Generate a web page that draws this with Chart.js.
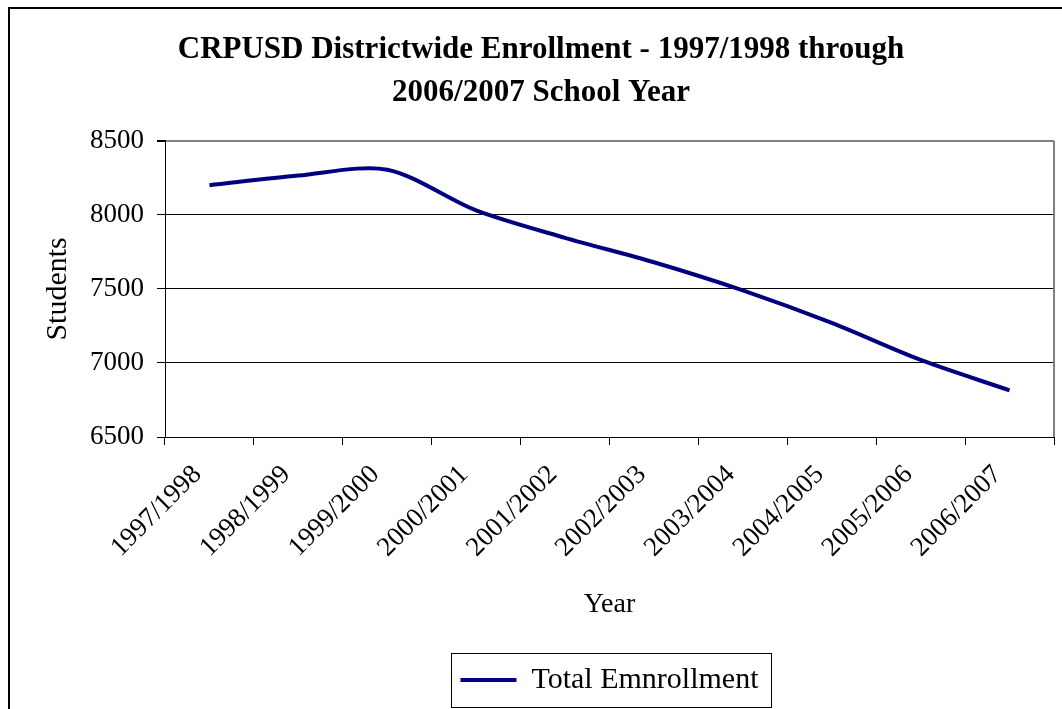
<!DOCTYPE html>
<html>
<head>
<meta charset="utf-8">
<title>CRPUSD Districtwide Enrollment</title>
<script src="https://cdn.jsdelivr.net/npm/chart.js@4"></script>
<style>
  html, body { margin: 0; padding: 0; background: #fff; }
  #wrap { width: 1062px; height: 709px; }
</style>
</head>
<body>
<div id="wrap"><canvas id="enrollmentChart" width="1062" height="709"></canvas></div>
<script>
const schoolYears = ['1997/1998', '1998/1999', '1999/2000', '2000/2001', '2001/2002',
  '2002/2003', '2003/2004', '2004/2005', '2005/2006', '2006/2007'];
const totalEnrollment = [8200, 8265, 8305, 8030, 7845, 7680, 7490, 7270, 7020, 6815];
const yMin = 6500;
const yMax = 8500;
const yStep = 500;

const serif = '"Liberation Serif", "Times New Roman", serif';

// outer frame, grey plot border on top/right, and a box around the legend
const framePlugin = {
  id: 'frames',
  beforeDraw: (chart) => {
    const { ctx } = chart;
    ctx.save();
    ctx.fillStyle = '#fff';
    ctx.fillRect(0, 0, chart.width, chart.height);
    ctx.strokeStyle = '#000';
    ctx.lineWidth = 2;
    ctx.strokeRect(9, 8, 1200, 900);
    ctx.restore();
  },
  beforeDatasetsDraw: (chart) => {
    const { ctx, chartArea } = chart;
    ctx.save();
    ctx.strokeStyle = '#808080';
    ctx.lineWidth = 2;
    ctx.beginPath();
    ctx.moveTo(chartArea.right, chartArea.top);
    ctx.lineTo(chartArea.right, chartArea.bottom);
    ctx.stroke();
    ctx.restore();
  },
  afterDraw: (chart) => {
    const boxes = chart.legend && chart.legend.legendHitBoxes;
    if (!boxes || !boxes.length) return;
    const hb = boxes[0];
    const { ctx } = chart;
    ctx.save();
    ctx.strokeStyle = '#000';
    ctx.lineWidth = 1;
    ctx.strokeRect(Math.round(hb.left - 9) + 0.5, Math.round(hb.top - 12) + 0.5,
      Math.round(hb.width + 22), Math.round(hb.height + 24));
    ctx.restore();
  },
};

const createChart = (ctx, config) => new Chart(ctx, config);

createChart(document.getElementById('enrollmentChart'), {
  type: 'line',
  data: {
    labels: schoolYears,
    datasets: [
      {
        label: 'Total Emnrollment',
        data: totalEnrollment,
        borderColor: '#000080',
        backgroundColor: '#000080',
        borderWidth: 4,
        pointRadius: 0,
        tension: 0.3,
        fill: false,
      },
    ],
  },
  options: {
    responsive: false,
    animation: false,
    layout: { padding: { left: 28, right: 8, top: 0, bottom: 4 } },
    plugins: {
      title: {
        display: true,
        text: ['CRPUSD Districtwide Enrollment - 1997/1998 through', '2006/2007 School Year'],
        color: '#000',
        font: { family: serif, size: 31, weight: 'bold', lineHeight: 1.4 },
        padding: { top: 28, bottom: 26 },
      },
      legend: {
        position: 'bottom',
        fullSize: false,
        labels: {
          color: '#000',
          font: { family: serif, size: 30 },
          usePointStyle: true,
          pointStyle: 'line',
          pointStyleWidth: 56,
          padding: 11,
        },
      },
      tooltip: { enabled: false },
    },
    scales: {
      x: {
        offset: true,
        afterFit: (scale) => { scale.height = 217; },
        grid: {
          offset: true,
          drawOnChartArea: false,
          tickLength: 8,
          color: '#000',
        },
        border: { color: '#000', width: 1 },
        ticks: {
          color: '#000',
          font: { family: serif, size: 27 },
          minRotation: 45,
          maxRotation: 45,
          autoSkip: false,
          padding: 14,
          labelOffset: -12,
        },
        title: {
          display: true,
          text: 'Year',
          color: '#000',
          font: { family: serif, size: 28 },
          padding: { top: 0, bottom: 33 },
        },
      },
      y: {
        min: yMin,
        max: yMax,
        afterFit: (scale) => { scale.width = 137; },
        grid: {
          color: (c) => (c.tick && c.tick.value === yMax ? '#808080' : '#000'),
          tickColor: '#000',
          tickLength: 8,
          lineWidth: (c) => (c.tick && c.tick.value === yMax ? 2 : 1),
        },
        border: { color: '#000', width: 1 },
        ticks: {
          stepSize: yStep,
          color: '#000',
          font: { family: serif, size: 27 },
          padding: 13,
          callback: (value) => String(value),
        },
        title: {
          display: true,
          text: 'Students',
          color: '#000',
          font: { family: serif, size: 30 },
          padding: { top: 12, bottom: 0 },
        },
      },
    },
  },
  plugins: [framePlugin],
});
</script>
</body>
</html>
